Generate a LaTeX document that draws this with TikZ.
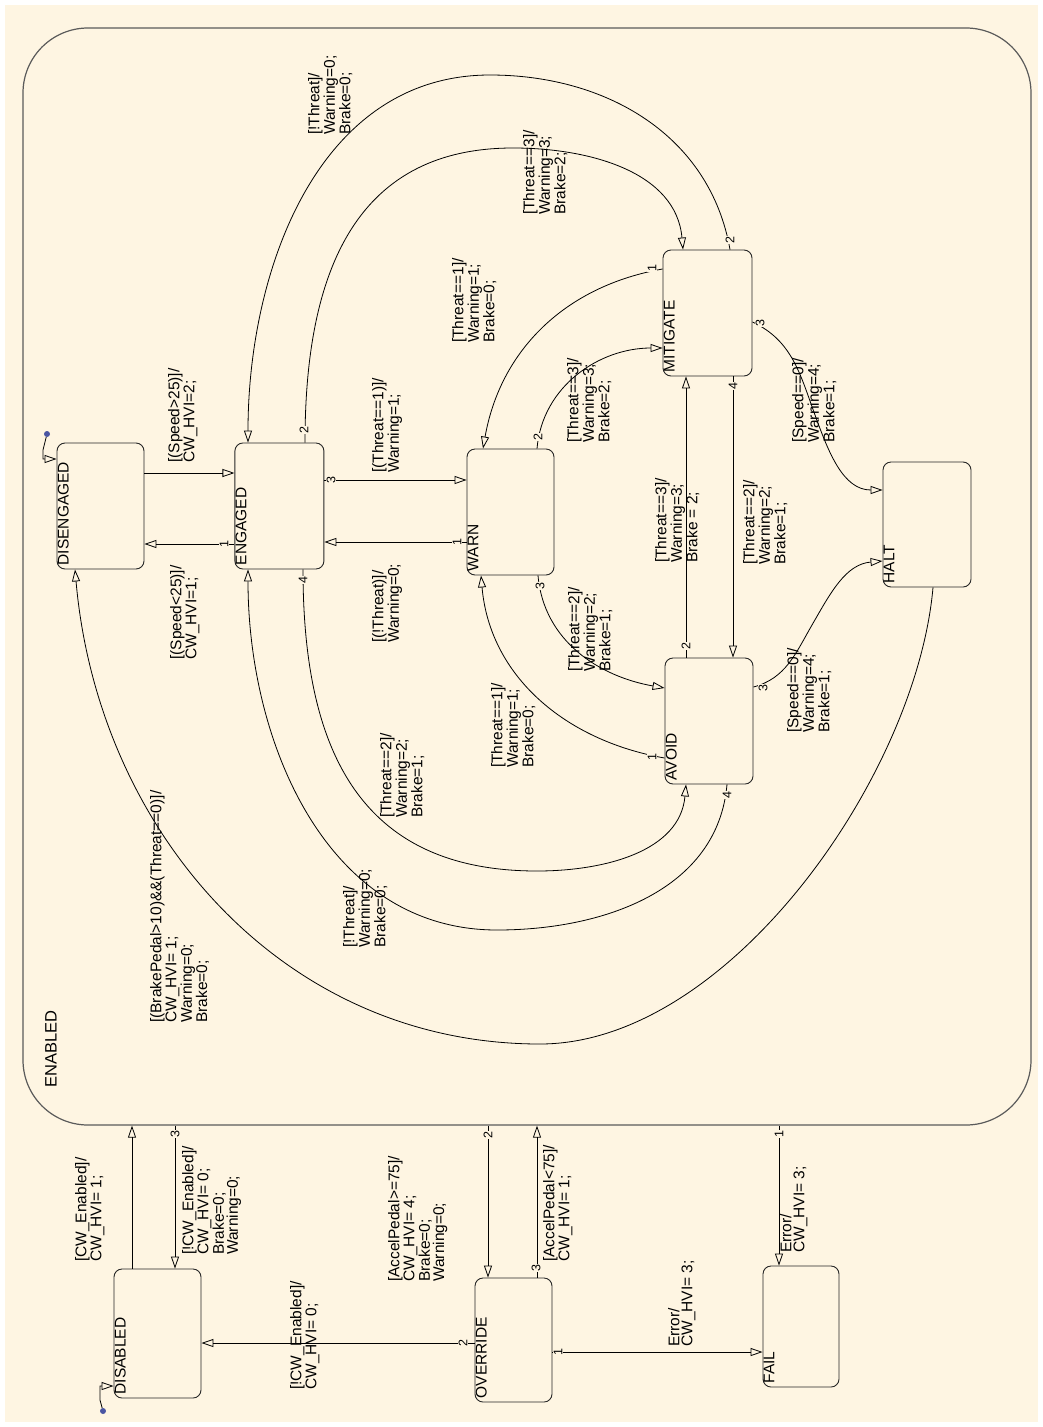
\documentclass[tikz,border=0pt]{standalone}
\usepackage{fontspec}
\setmainfont{Liberation Sans}
\usetikzlibrary{arrows.meta,positioning}

\definecolor{chartbg}{HTML}{FEF5E2}
\definecolor{chartline}{HTML}{5A5A5A}
\definecolor{dotblue}{HTML}{4A55A2}

\begin{document}
\begin{tikzpicture}[x=1pt,y=1pt,>={Triangle[open,length=12pt,width=8pt]},
  st/.style={draw=black!85,line width=0.9pt,rounded corners=8pt,minimum width=87pt,minimum height=126pt,inner sep=0pt},
  stname/.style={rotate=90,anchor=north west,inner sep=0pt,font=\fontsize{15.5}{13}\selectfont},
  lbl/.style={rotate=90,anchor=north west,align=left,inner sep=0pt,font=\fontsize{15.5}{13}\selectfont},
  ord/.style={rotate=90,fill=chartbg,inner sep=0.6pt,font=\fontsize{12.5}{12}\selectfont},
  tr/.style={->,line width=0.8pt},
  dot/.style={circle,fill=dotblue,inner sep=0pt,minimum size=6pt}]

\useasboundingbox (0,0) rectangle (1043,-1427);
\fill[white] (0,0) rectangle (1043,-1427);
\fill[chartbg] (5,-5) rectangle (1038,-1422);

\node [draw=chartline,line width=1.2pt,rounded corners=65pt,minimum width=1008pt,minimum height=1097pt] (ENABLED) at (527,-576.5) {};
\node [stname,font=\fontsize{16.5}{14}\selectfont] (tENABLED) at (45,-1088) {ENABLED};

\node [st] (DISEN) at (100.5,-506) {};
\node [st,minimum width=89pt] (ENG) [right=90pt of DISEN] {};
\node [st] (WARN) at (510.5,-512) {};
\node [st,minimum width=89pt] (MIT) at (707.5,-313) {};
\node [st,minimum width=88pt] (AVOID) at (709,-721) {};
\node [st,minimum width=88pt,minimum height=125pt] (HALT) at (927,-524.5) {};
\node [st,minimum height=129pt] (DISABLED) at (157.5,-1333.5) {};
\node [st,minimum width=77pt,minimum height=124pt] (OVERRIDE) at (513.5,-1340) {};
\node [st,minimum width=76pt,minimum height=121pt] (FAIL) at (801,-1326.5) {};

\node [stname] (tDISEN) at ([xshift=1pt,yshift=4pt]DISEN.south west) {DISENGAGED};
\node [stname] (tENG) at ([xshift=1pt,yshift=4pt]ENG.south west) {ENGAGED};
\node [stname] (tWARN) at ([xshift=1pt,yshift=4pt]WARN.south west) {WARN};
\node [stname] (tMIT) at ([xshift=1pt,yshift=4pt]MIT.south west) {MITIGATE};
\node [stname] (tAVOID) at ([xshift=1pt,yshift=4pt]AVOID.south west) {AVOID};
\node [stname] (tHALT) at ([xshift=1pt,yshift=4pt]HALT.south west) {HALT};
\node [stname] (tDISABLED) at ([xshift=1pt,yshift=4pt]DISABLED.south west) {DISABLED};
\node [stname] (tOVERRIDE) at ([xshift=1pt,yshift=4pt]OVERRIDE.south west) {OVERRIDE};
\node [stname] (tFAIL) at ([xshift=1pt,yshift=4pt]FAIL.south west) {FAIL};

\node [dot] (init1) at (47,-434) {};
\node [dot] (init2) at (103,-1411) {};
\draw [tr] (init1) -- (43,-450) -- (43,-459) -- (DISEN.west |- 0,-459);
\draw [tr] (init2) -- (100,-1400) -- (100,-1386) -- (DISABLED.west |- 0,-1386);

\draw [tr] (DISEN.east |- 0,-473) -- (ENG.west |- 0,-473);
\draw [tr] (ENG.west |- 0,-544) -- (DISEN.east |- 0,-544);
\draw [tr] (ENG.east |- 0,-480) -- (WARN.west |- 0,-480);
\draw [tr] (WARN.west |- 0,-542) -- (ENG.east |- 0,-542);
\draw [tr] (MIT.north -| 730,0) to[out=100,in=0] (490,-75) to[out=180,in=90] (ENG.north -| 248,0);
\draw [tr] (ENG.north -| 305,0) to[out=90,in=180,looseness=1.15] (513,-148) to[out=0,in=95] (MIT.north -| 683,0);
\draw [tr] (WARN.north -| 537,0) to[out=85,in=180] (MIT.west |- 0,-348);
\draw [tr] (MIT.west |- 0,-269) to[out=190,in=80] (WARN.north -| 483,0);
\draw [tr] (WARN.south -| 538,0) to[out=-85,in=170] (AVOID.west |- 0,-688);
\draw [tr] (AVOID.west |- 0,-758) to[out=170,in=-85] (WARN.south -| 481,0);
\draw [tr] (AVOID.north -| 686,0) -- (MIT.south -| 686,0);
\draw [tr] (MIT.south -| 733,0) -- (AVOID.north -| 733,0);
\draw [tr] (MIT.east |- 0,-322) to[out=-25,in=110] (815,-415) to[out=-70,in=180] (HALT.west |- 0,-490);
\draw [tr] (AVOID.east |- 0,-687) to[out=15,in=-120] (812,-625) to[out=60,in=185] (HALT.west |- 0,-561);
\draw [tr] (ENG.south -| 303,0) to[out=-90,in=180,looseness=1.2] (537,-871) to[out=0,in=-95] (AVOID.south -| 686,0);
\draw [tr] (AVOID.south -| 727,0) to[out=-95,in=0] (497,-930) to[out=180,in=-90] (ENG.south -| 248,0);
\draw [tr] (HALT.south -| 933,0) to[out=-95,in=0,looseness=0.8] (540,-1044) to[out=180,in=-85] (DISEN.south -| 75,0);

\draw [tr] (DISABLED.north -| 132,0) -- (ENABLED.south -| 132,0);
\draw [tr] (ENABLED.south -| 175,0) -- (DISABLED.north -| 175,0);
\draw [tr] (ENABLED.south -| 488,0) -- (OVERRIDE.north -| 488,0);
\draw [tr] (OVERRIDE.north -| 537,0) -- (ENABLED.south -| 537,0);
\draw [tr] (OVERRIDE.west |- 0,-1343) -- (DISABLED.east |- 0,-1343);
\draw [tr] (OVERRIDE.east |- 0,-1352) -- (FAIL.west |- 0,-1352);
\draw [tr] (ENABLED.south -| 779,0) -- (FAIL.north -| 779,0);

\node [ord] (o1) at (224,-544) {1};
\node [ord] (o2) at (331,-480) {3};
\node [ord] (o3) at (457,-542) {1};
\node [ord] (o4) at (304,-430) {2};
\node [ord] (o5) at (730,-240) {2};
\node [ord] (o6) at (538,-437) {2};
\node [ord] (o7) at (652,-268) {1};
\node [ord] (o8) at (540,-586) {3};
\node [ord] (o9) at (652,-757) {1};
\node [ord] (o10) at (686,-646) {2};
\node [ord] (o11) at (733,-386) {4};
\node [ord] (o12) at (760,-323) {3};
\node [ord] (o13) at (763,-688) {3};
\node [ord] (o14) at (303,-580) {4};
\node [ord] (o15) at (727,-795) {4};
\node [ord] (o16) at (175,-1134) {3};
\node [ord] (o17) at (488,-1135) {2};
\node [ord] (o18) at (536,-1268) {3};
\node [ord] (o19) at (463,-1343) {2};
\node [ord] (o20) at (558,-1352) {1};
\node [ord] (o21) at (779,-1134) {1};

\node [lbl] (lDE) at (168,-463) {[(Speed>25)]/\\CW\_HVI=2;};
\node [lbl] (lED) at (170,-660) {[(Speed<25)]/\\CW\_HVI=1;};
\node [lbl] (lEW) at (372,-473) {[(Threat==1)]/\\Warning=1;};
\node [lbl] (lWE) at (372,-643) {[(!Threat)]/\\Warning=0;};
\node [lbl] (lME) at (308,-135) {[!Threat]/\\Warning=0;\\Brake=0;};
\node [lbl] (lEM) at (523,-215) {[Threat==3]/\\Warning=3;\\Brake=2;};
\node [lbl] (lWM) at (567,-443) {[Threat==3]/\\Warning=3;\\Brake=2;};
\node [lbl] (lMW) at (452,-343) {[Threat==1]/\\Warning=1;\\Brake=0;};
\node [lbl] (lWA) at (568,-672) {[Threat==2]/\\Warning=2;\\Brake=1;};
\node [lbl] (lAW) at (491,-768) {[Threat==1]/\\Warning=1;\\Brake=0;};
\node [lbl] (lAM) at (655,-563) {[Threat==3]/\\Warning=3;\\Brake = 2;};
\node [lbl] (lMA) at (743,-565) {[Threat==2]/\\Warning=2;\\Brake=1;};
\node [lbl] (lMH) at (792,-443) {[Speed==0]/\\Warning=4;\\Brake=1;};
\node [lbl] (lAH) at (787,-733) {[Speed==0]/\\Warning=4;\\Brake=1;};
\node [lbl] (lEA) at (380,-818) {[Threat==2]/\\Warning=2;\\Brake=1;};
\node [lbl] (lAE) at (343,-948) {[!Threat]/\\Warning=0;\\Brake=0;};
\node [lbl] (lHD) at (150,-1023) {[(BrakePedal>10)\&\&(Threat==0)]/\\CW\_HVI= 1;\\Warning=0;\\Brake=0;};
\node [lbl] (lDisEn) at (75,-1262) {[CW\_Enabled]/\\CW\_HVI= 1;};
\node [lbl] (lEnDis) at (182,-1255) {[!CW\_Enabled]/\\CW\_HVI= 0;\\Brake=0;\\Warning=0;};
\node [lbl] (lEnOv) at (388,-1282) {[AccelPedal>=75]/\\CW\_HVI= 4;\\Brake=0;\\Warning=0;};
\node [lbl] (lOvEn) at (543,-1262) {[AccelPedal<75]/\\CW\_HVI= 1;};
\node [lbl] (lOvDis) at (290,-1390) {[!CW\_Enabled]/\\CW\_HVI= 0;};
\node [lbl] (lOvF) at (668,-1347) {Error/\\CW\_HVI= 3;};
\node [lbl] (lEnF) at (780,-1253) {Error/\\CW\_HVI= 3;};

\end{tikzpicture}
\end{document}
